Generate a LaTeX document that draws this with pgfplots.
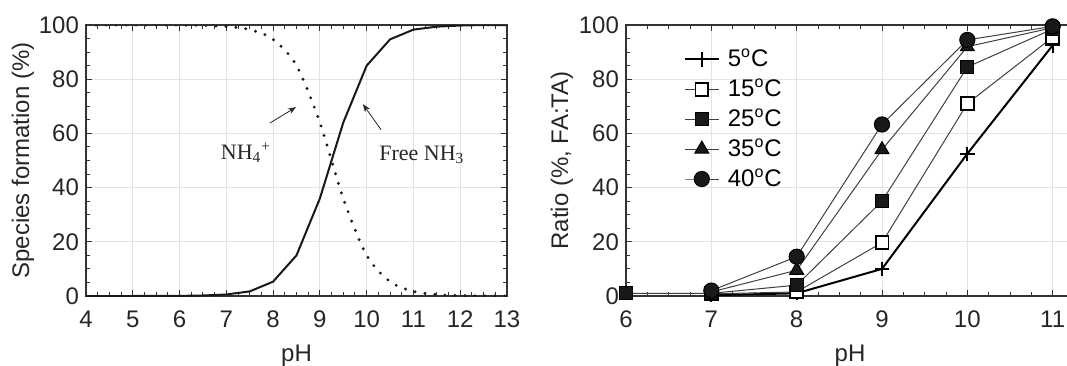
\documentclass[border=0pt]{standalone}
\usepackage{pgfplots}
\pgfplotsset{compat=1.18}
\usepackage{fontspec}
\setmainfont{Liberation Sans}
\newfontfamily\timesfont{Liberation Serif}
\usetikzlibrary{arrows.meta}
\begin{document}
\begin{tikzpicture}
\useasboundingbox (0,0) rectangle (533.5pt,182.5pt);
\clip (0,0) rectangle (533.5pt,182.5pt);
\pgfplotsset{
  myax/.style={
    scale only axis, anchor=south west,
    height=135.5pt, ymin=0, ymax=100, ytick={0,20,...,100},
    axis line style={draw=black!80, line width=1pt},
    tick style={black!80, line width=0.5pt},
    major tick length=3pt, minor tick length=1.8pt,
    minor x tick num=3, minor y tick num=3,
    tick align=inside, tick pos=both,
    grid=major, major grid style={gray!22, line width=0.5pt},
    tick label style={font=\fontsize{12}{14}\selectfont, text=black!85},
    label style={font=\fontsize{12}{14}\selectfont, text=black!85},
    /pgf/number format/assume math mode=true,
    xlabel={pH},
    xticklabel style={yshift=-4pt},
    yticklabel style={xshift=0pt},
    x label style={at={(axis description cs:0.5,0)}, anchor=center, yshift=-30pt},
  }
}
% Left panel
\begin{axis}[myax, at={(43pt,34.5pt)}, width=210.5pt,
  xmin=4, xmax=13, xtick={4,...,13},
  ylabel={Species formation (\%)},
  y label style={at={(axis description cs:-0.15,0.5)}, anchor=center}]
\addplot[black!90, line width=1pt] coordinates {
(4,0) (5,0) (6,0.05) (6.5,0.18) (7,0.56) (7.5,1.7) (8,5.3) (8.5,15) (9,36) (9.5,64) (10,85) (10.5,94.7) (11,98.3) (11.5,99.4) (12,99.8) (12.5,100) (13,100)};
\addplot[black!90, line width=1.6pt, line cap=round, dash pattern=on 0pt off 5pt, smooth] coordinates {
(4,100) (5,100) (6,99.95) (6.5,99.82) (7,99.44) (7.5,98.3) (8,94.7) (8.5,85) (9,64) (9.5,36) (10,15) (10.5,5.3) (11,1.7) (11.5,0.56) (12,0.18) (12.5,0.05) (13,0)};
\node[font=\timesfont\fontsize{11}{13}\selectfont, text=black!85] at (axis cs:7.42,52.8) {NH\textsubscript{4}\textsuperscript{+}};
\node[font=\timesfont\fontsize{11}{13}\selectfont, text=black!85] at (axis cs:11.18,52) {Free NH\textsubscript{3}};
\draw[-{Stealth[length=4pt,width=3pt]}, line width=0.4pt, black!85] (axis cs:7.93,63.8) -- (axis cs:8.49,69.7);
\draw[-{Stealth[length=4pt,width=3pt]}, line width=0.4pt, black!85] (axis cs:10.31,61.3) -- (axis cs:9.92,70.8);
\end{axis}
% Right panel
\begin{axis}[myax, at={(313pt,34.5pt)}, width=224pt,
  xmin=6, xmax=11.25, xtick={6,...,11},
  ylabel={Ratio (\%, FA:TA)},
  y label style={at={(axis description cs:-0.143,0.5)}, anchor=center},
  legend style={draw=none, fill=none, at={(0.128,0.93)}, anchor=north west,
    font=\fontsize{12}{14}\selectfont, row sep=0pt, inner sep=0pt,
    nodes={inner xsep=4pt, inner ysep=2.4pt}},
  legend image code/.code={\draw[mark repeat=2,mark phase=2,#1] plot coordinates {(0cm,0cm) (0.3cm,0cm) (0.6cm,0cm)};},
  legend cell align=left]
\addplot[black, line width=1pt, mark=+, mark size=3.6pt, mark options={line width=1pt}] coordinates {
(7,0.3) (8,1) (9,10) (10,52.5) (11,92.5)};
\addlegendentry{5\textsuperscript{o}C}
\addplot[black!75, line width=0.5pt, mark=square*, mark size=3.2pt, mark options={fill=white, draw=black, line width=0.9pt}] coordinates {
(7,0.8) (8,1.5) (9,19.7) (10,71) (11,95.5)};
\addlegendentry{15\textsuperscript{o}C}
\addplot[black!75, line width=0.5pt, mark=square*, mark size=3.2pt, mark options={fill=black!90, draw=black, line width=0.5pt}] coordinates {
(6,1) (7,1) (8,4) (9,35) (10,84.5) (11,98.5)};
\addlegendentry{25\textsuperscript{o}C}
\addplot[black!75, line width=0.5pt, mark=triangle*, mark size=4pt, mark options={fill=black!90, draw=black, line width=0.5pt}] coordinates {
(7,1.5) (8,9.5) (9,54) (10,92) (11,99)};
\addlegendentry{35\textsuperscript{o}C}
\addplot[black!75, line width=0.5pt, mark=*, mark size=3.8pt, mark options={fill=black!90, draw=black, line width=0.5pt}] coordinates {
(7,2) (8,14.5) (9,63.3) (10,94.5) (11,99.5)};
\addlegendentry{40\textsuperscript{o}C}
\end{axis}
\end{tikzpicture}
\end{document}
